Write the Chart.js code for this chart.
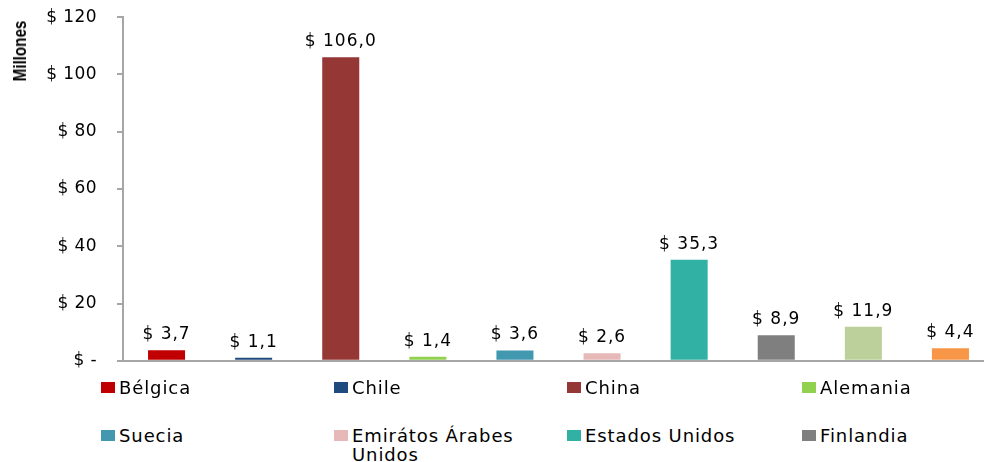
<!DOCTYPE html>
<html>
<head>
<meta charset="utf-8">
<script src="https://cdn.jsdelivr.net/npm/chart.js@4/dist/chart.umd.min.js"></script>
<style>
  html, body { margin: 0; padding: 0; background: #fff; overflow: hidden; width: 984px; height: 462px; }
  #wrap { position: relative; width: 984px; height: 462px; overflow: hidden; }
  #c { position: absolute; left: 0; top: -13px; }
  #ytitle { position: absolute; left: 20px; top: 51px; transform: translate(-50%, -50%) rotate(-90deg) scaleX(0.8);
    font-family: "Liberation Sans", Arial, sans-serif; font-weight: bold; font-size: 19px; color: #000; white-space: nowrap; }
  .lg { position: absolute; display: flex; align-items: flex-start; font-family: "DejaVu Sans", sans-serif; font-size: 18px; letter-spacing: 0.9px; color: #000; line-height: 19px; }
  .lg .box { width: 14px; height: 11px; margin-top: 4px; margin-right: 4px; flex: none; }
  .lg .txt { width: 200px; }
</style>
</head>
<body>
<div id="wrap">
  <canvas id="c" width="994" height="404"></canvas>
  <div id="ytitle">Millones</div>
  <div id="legend"></div>
</div>
<script>
const categories = ["Bélgica", "Chile", "China", "Alemania", "Suecia", "Emirátos Árabes Unidos", "Estados Unidos", "Finlandia", "", ""];
const values = [3.7, 1.1, 106.0, 1.4, 3.6, 2.6, 35.3, 8.9, 11.9, 4.4];
const colors = ["#C00000", "#1F4A7E", "#953735", "#92D050", "#4198AF", "#E6B9B8", "#31B1A3", "#7F7F7F", "#BBD09A", "#F79646"];
const yTicks = [0, 20, 40, 60, 80, 100, 120];

function fmt(v) { return v.toFixed(1).replace('.', ','); }

const spacing = {
  id: 'spacing',
  beforeDraw(chart) { chart.ctx.letterSpacing = '0.4px'; }
};

const dataLabels = {
  id: 'dataLabels',
  afterDatasetsDraw(chart) {
    const ctx = chart.ctx;
    const meta = chart.getDatasetMeta(0);
    ctx.save();
    ctx.letterSpacing = '1px';
    ctx.font = '17px "DejaVu Sans", sans-serif';
    ctx.fillStyle = '#000';
    ctx.textAlign = 'center';
    ctx.textBaseline = 'bottom';
    meta.data.forEach((bar, i) => {
      ctx.fillText('$ ' + fmt(values[i]), bar.x, bar.y - 7);
    });
    ctx.restore();
  }
};

new Chart(document.getElementById('c'), {
  type: 'bar',
  data: {
    labels: categories,
    datasets: [{ data: values, backgroundColor: colors, borderWidth: 0, categoryPercentage: 1, barPercentage: 0.425 }]
  },
  options: {
    responsive: false,
    animation: false,
    layout: { padding: { top: 3, right: 0, left: 0, bottom: 0 } },
    plugins: { legend: { display: false }, tooltip: { enabled: false } },
    scales: {
      x: {
        ticks: { display: false },
        grid: { drawOnChartArea: false, drawTicks: false },
        border: { display: true, color: '#A6A6A6', width: 2 },
        afterFit(s) { s.height = 12; }
      },
      y: {
        min: 0, max: 120,
        afterBuildTicks(s) { s.ticks = yTicks.map(v => ({ value: v })); },
        ticks: {
          font: { family: '"DejaVu Sans", sans-serif', size: 17 },
          color: '#000',
          padding: 20,
          callback: v => v === 0 ? '$ -' : '$ ' + v
        },
        grid: { drawOnChartArea: false, drawTicks: true, tickLength: 6, color: '#A6A6A6', lineWidth: 2 },
        border: { display: true, color: '#A6A6A6', width: 2 },
        afterFit(s) { s.width = 123; }
      }
    }
  },
  plugins: [spacing, dataLabels]
});

// HTML legend (named categories, 4 columns)
const legend = document.getElementById('legend');
const colX = [101, 334, 567, 802];
const rowY = [378, 426];
let k = 0;
categories.forEach((name, i) => {
  if (!name) return;
  const el = document.createElement('div');
  el.className = 'lg';
  el.style.left = colX[k % 4] + 'px';
  el.style.top = rowY[Math.floor(k / 4)] + 'px';
  el.innerHTML = '<div class="box" style="background:' + colors[i] + '"></div><div class="txt"></div>';
  el.querySelector('.txt').textContent = name;
  legend.appendChild(el);
  k++;
});
</script>
</body>
</html>
